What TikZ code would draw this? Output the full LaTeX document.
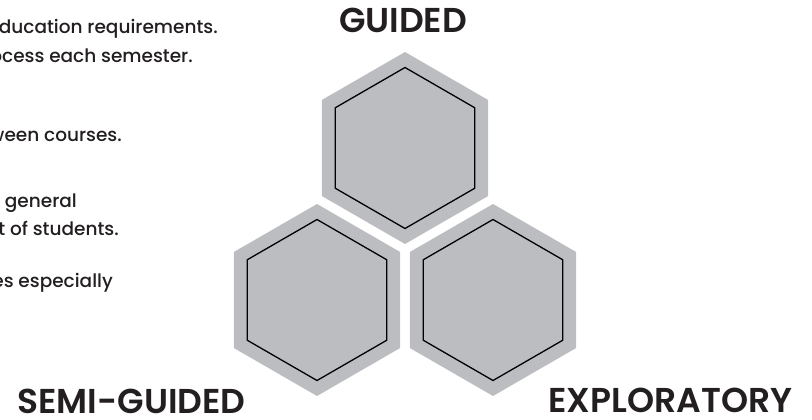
\documentclass[tikz,border=0pt]{standalone}
\usepackage{fontspec}
\setmainfont{Poppins}
\newfontfamily\bodyfont{Poppins Medium}
\newfontfamily\titlefont{Poppins SemiBold}
\usepackage{tikz}
\usetikzlibrary{shapes.geometric, positioning}
\definecolor{hexgrey}{RGB}{188,189,193}
\definecolor{inkdark}{RGB}{35,31,32}

\begin{document}
\begin{tikzpicture}[x=1pt, y=-1pt, text=inkdark,
    hexouter/.style={regular polygon, regular polygon sides=6, shape border rotate=30,
      minimum size=192pt, inner sep=0pt, outer sep=0pt, fill=hexgrey},
    hexinner/.style={regular polygon, regular polygon sides=6, shape border rotate=30,
      minimum size=161pt, inner sep=0pt, outer sep=0pt, fill=hexgrey, draw=black, line width=1.3pt},
    bodytext/.style={anchor=base east, inner sep=0pt, font=\bodyfont\fontsize{18.5}{22}\selectfont},
    hextitle/.style={anchor=base, inner sep=0pt, font=\titlefont\fontsize{34.5}{37}\selectfont}]
      \useasboundingbox (0,0) rectangle (812,420);
      \clip (0,0) rectangle (812,420);
      % Hexagons
      \node[hexouter] (guided) at (405,148) {};
      \node[hexouter] (semi) at (317,300) {};
      \node[hexouter] (explo) at (493,300) {};
      \foreach \h in {guided,semi,explo}{
        \node[hexinner] (\h in) at (\h.center) {};
      }
      % Titles
      \node[hextitle] (guidedlbl) at (403,33) {GUIDED};
      \node[hextitle] (semilbl) at (131.5,413) {SEMI-GUIDED};
      \node[hextitle] (explolbl) at (670.5,412) {EXPLORATORY};
      % Text cut at the left edge
      \node[bodytext] (tx1) at (218,34) {ducation requirements.};
      \node[bodytext] (tx2) at (193,63) {rocess each semester.};
      \node[bodytext] (tx3) at (122,142) {ween courses.};
      \node[bodytext] (tx4) at (77,207) {general};
      \node[bodytext] (tx5) at (119,235) {t of students.};
      \node[bodytext] (tx6) at (113,287) {es especially};
    \end{tikzpicture}
\end{document}
